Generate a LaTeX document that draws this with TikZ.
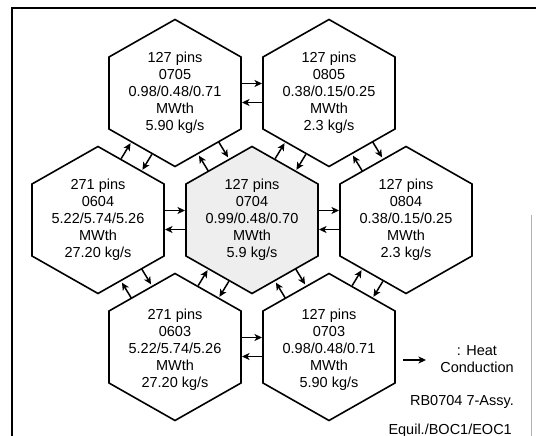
\documentclass[tikz,border=0pt]{standalone}
\usepackage{fontspec}
\setmainfont{Liberation Sans}
\usetikzlibrary{arrows.meta,calc}
\tikzset{
  hexline/.style={line width=1.6pt, line join=miter},
  hexshade/.style={fill=gray!13},
  lbl/.style={align=center, font=\fontsize{14.5}{17}\selectfont, inner sep=0pt},
  heat/.style={line width=1.5pt, -{Stealth[length=7.5pt,width=7pt,inset=2pt]}},
  frameline/.style={line width=2pt},
  scanline/.style={line width=0.6pt, draw=gray!60},
}
% hexagon around a named coordinate
\newcommand\hexaround[1]{(#1) ++(0,-73.5) -- ++(66,37.5) -- ++(0,72) -- ++(-66,37.5) -- ++(-66,-37.5) -- ++(0,-72) -- cycle}
% one heat-conduction arrow from hexagon #1 to hexagon #2
\newcommand\heatarrow[5]{\draw[heat] ($(#1)!#3!(#2)!#5!90:(#2)$) -- ($(#2)!#4!(#1)!#5!-90:(#1)$);}
% pair of opposite arrows between two neighbouring hexagons
\newcommand\hpair[2]{\heatarrow{#1}{#2}{66.5pt}{67pt}{9.5pt}\heatarrow{#2}{#1}{66.5pt}{67pt}{9.5pt}}
\newcommand\dpair[2]{\heatarrow{#1}{#2}{64.5pt}{66pt}{12pt}\heatarrow{#2}{#1}{64.5pt}{66pt}{12pt}}
\begin{document}
\begin{tikzpicture}[x=1pt,y=-1pt]
\useasboundingbox (0,0) rectangle (536,436);
% frame
\draw[frameline] (12,437) -- (12,8) -- (537,8);
\draw[scanline] (531,215) -- (531,436);
% hexagon centres
\coordinate (c0705) at (175,93);
\coordinate (c0805) at (329,93);
\coordinate (c0604) at (98,220);
\coordinate (c0704) at (252,220);
\coordinate (c0804) at (406,220);
\coordinate (c0603) at (175,347);
\coordinate (c0703) at (329,347);
% hexagons
\filldraw[hexline,hexshade] \hexaround{c0704};
\foreach \h in {c0705,c0805,c0604,c0804,c0603,c0703}
  \draw[hexline] \hexaround{\h};
% labels
\node[lbl] (n0705) at (c0705) {127 pins\\0705\\0.98/0.48/0.71\\MWth\\5.90 kg/s};
\node[lbl] (n0805) at (c0805) {127 pins\\0805\\0.38/0.15/0.25\\MWth\\2.3 kg/s};
\node[lbl] (n0604) at (c0604) {271 pins\\0604\\5.22/5.74/5.26\\MWth\\27.20 kg/s};
\node[lbl] (n0704) at (c0704) {127 pins\\0704\\0.99/0.48/0.70\\MWth\\5.9 kg/s};
\node[lbl] (n0804) at (c0804) {127 pins\\0804\\0.38/0.15/0.25\\MWth\\2.3 kg/s};
\node[lbl] (n0603) at ($(c0603)+(0,3)$) {271 pins\\0603\\5.22/5.74/5.26\\MWth\\27.20 kg/s};
\node[lbl] (n0703) at ($(c0703)+(0,3)$) {127 pins\\0703\\0.98/0.48/0.71\\MWth\\5.90 kg/s};
% heat conduction arrows
\hpair{c0705}{c0805}
\hpair{c0604}{c0704}
\hpair{c0704}{c0804}
\hpair{c0603}{c0703}
\dpair{c0705}{c0604}
\dpair{c0705}{c0704}
\dpair{c0805}{c0704}
\dpair{c0805}{c0804}
\dpair{c0604}{c0603}
\dpair{c0704}{c0603}
\dpair{c0704}{c0703}
\dpair{c0804}{c0703}
% legend
\coordinate (lg1) at (403,360);
\coordinate (lg2) at (426,360);
\draw[heat] (lg1) -- (lg2);
\node[lbl] (legtext) at (477,359.5) {: Heat\\Conduction};
\node[lbl, anchor=east] (rb1) at (514,402) {RB0704 7-Assy.};
\node[lbl, anchor=base east] (rb2) at (512,434) {Equil./BOC1/EOC1};
\end{tikzpicture}
\end{document}
